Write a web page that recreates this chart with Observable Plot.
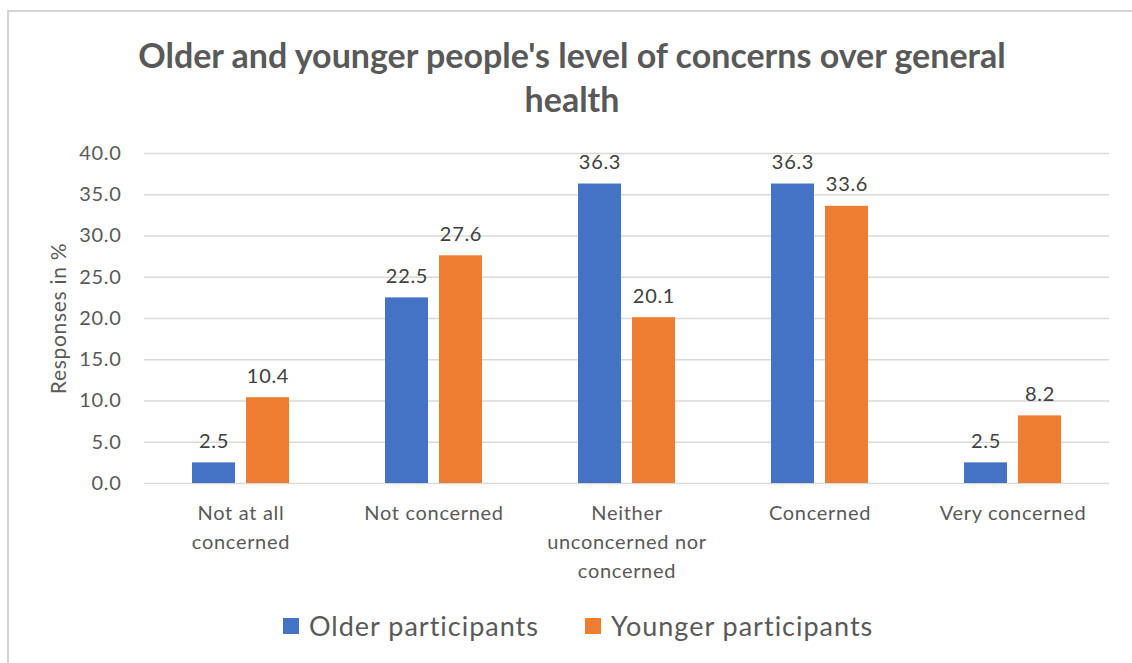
<!DOCTYPE html>
<html>
<head>
<meta charset="utf-8">
<script src="https://cdn.jsdelivr.net/npm/d3@7"></script>
<script src="https://cdn.jsdelivr.net/npm/@observablehq/plot@0.6"></script>
<style>
  html, body { margin: 0; padding: 0; background: #fff; }
  #root { position: relative; width: 1132px; height: 663px; overflow: hidden; font-family: Lato, "Noto Sans", sans-serif; }
  #frame { position: absolute; left: 7px; top: 10px; right: -5px; bottom: -5px; border-top: 2px solid #d4d4d4; border-left: 2px solid #d4d4d4; }
  #title { position: absolute; left: 0; top: 33px; width: 1144px; text-align: center; font-weight: bold; font-size: 34px; line-height: 44px; color: #595959; }
  #chart { position: absolute; left: 0; top: 0; }
  #legend { position: absolute; top: 609px; left: 283px; display: flex; gap: 46px; font-size: 27px; letter-spacing: 1px; color: #595959; }
  .item { display: flex; align-items: center; gap: 10px; }
  .sw { width: 16px; height: 16px; display: inline-block; }
  #chart svg text { letter-spacing: 0.7px; }
</style>
</head>
<body>
<div id="root">
  <div id="frame"></div>
  <div id="chart"></div>
  <div id="title">Older and younger people's level of concerns over general<br>health</div>
  <div id="legend"></div>
</div>
<script>
const categories = ["Not at all concerned", "Not concerned", "Neither unconcerned nor concerned", "Concerned", "Very concerned"];
const categoryLabels = ["Not at all\nconcerned", "Not concerned", "Neither\nunconcerned nor\nconcerned", "Concerned", "Very concerned"];
const series = ["Older participants", "Younger participants"];
const olderValues = [2.5, 22.5, 36.3, 36.3, 2.5];
const youngerValues = [10.4, 27.6, 20.1, 33.6, 8.2];
const colors = ["#4472C4", "#ED7D31"];
const yTicks = [0, 5, 10, 15, 20, 25, 30, 35, 40];

const data = [];
categories.forEach((c, i) => {
  data.push({category: c, series: series[0], value: olderValues[i]});
  data.push({category: c, series: series[1], value: youngerValues[i]});
});
const labelMap = new Map(categories.map((c, i) => [c, categoryLabels[i]]));

const chart = Plot.plot({
  width: 1132,
  height: 600,
  marginLeft: 143,
  marginRight: 22,
  marginTop: 153,
  marginBottom: 117,
  style: {fontFamily: "Lato, 'Noto Sans', sans-serif", background: "transparent"},
  fx: {domain: categories, padding: 0, label: null},
  x: {domain: series, paddingInner: 0.2, paddingOuter: 0.858, axis: null},
  y: {domain: [0, 40], label: null},
  color: {domain: series, range: colors},
  marks: [
    Plot.gridY(yTicks, {stroke: "#d9d9d9", strokeOpacity: 1, strokeWidth: 1.6}),
    Plot.axisY(yTicks, {
      tickSize: 0, tickPadding: 23, tickFormat: d => d.toFixed(1),
      fontSize: 20, fill: "#595959",
      label: "Responses in %", labelAnchor: "center", labelArrow: "none", labelOffset: 93
    }),
    Plot.axisFx({
      anchor: "bottom", tickSize: 0, tickPadding: 16, fontSize: 20, fill: "#595959",
      lineHeight: 1.45, tickFormat: d => labelMap.get(d), label: null
    }),
    Plot.barY(data, {fx: "category", x: "series", y: "value", fill: "series"}),
    Plot.text(data, {
      fx: "category", x: "series", y: "value", text: d => d.value.toFixed(1),
      lineAnchor: "bottom", dy: -15, fontSize: 20, fill: "#404040"
    })
  ]
});
chart.querySelectorAll('[aria-label="y-axis label"] text, [aria-label="y-axis label"]').forEach(el => {
  el.setAttribute("font-size", "21");
  el.style.fontSize = "21px";
  el.setAttribute("fill", "#595959");
});
document.getElementById("chart").appendChild(chart);

const legend = document.getElementById("legend");
series.forEach((s, i) => {
  const item = document.createElement("div");
  item.className = "item";
  const sw = document.createElement("span");
  sw.className = "sw";
  sw.style.background = colors[i];
  const t = document.createElement("span");
  t.textContent = s;
  item.appendChild(sw);
  item.appendChild(t);
  legend.appendChild(item);
});
</script>
</body>
</html>
